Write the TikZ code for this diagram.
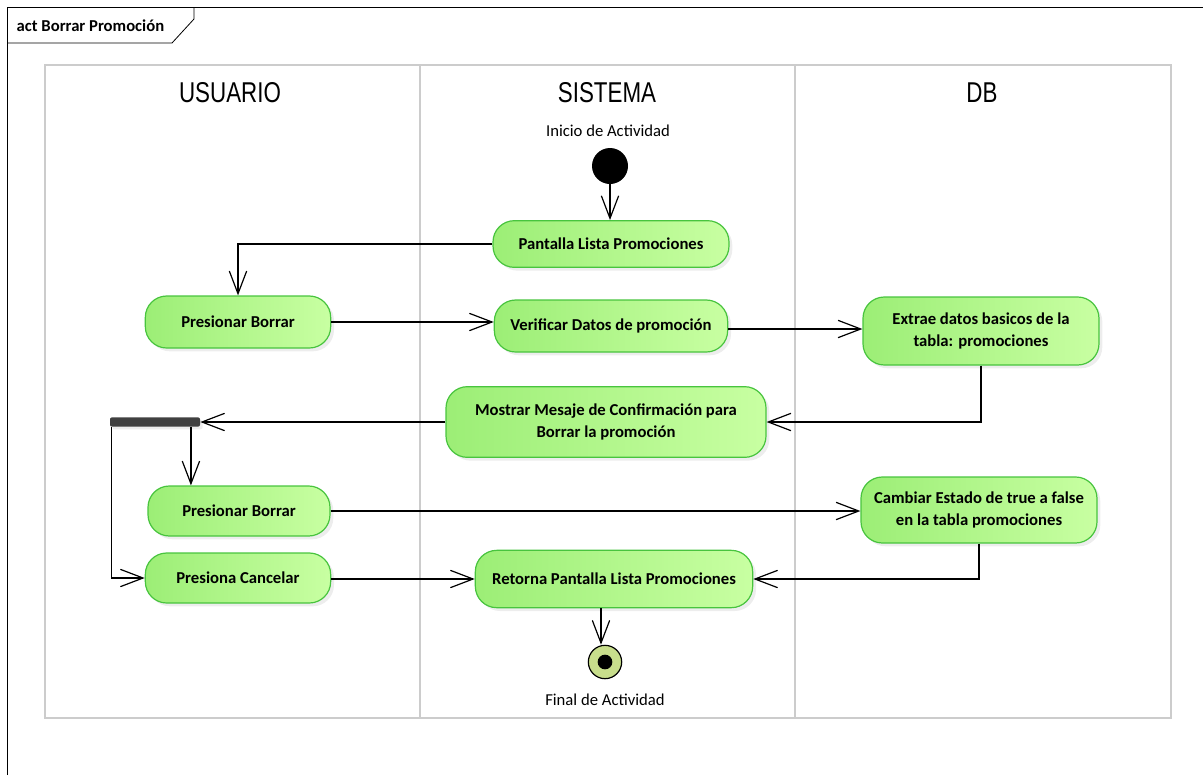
\documentclass[tikz,border=0pt]{standalone}
\usepackage{fontspec}
\setmainfont{Carlito}
\newfontfamily\lanefont[FakeStretch=0.78]{Liberation Sans}
\usetikzlibrary{arrows.meta, positioning, shadows}

\definecolor{actleft}{RGB}{156,238,118}
\definecolor{actright}{RGB}{200,255,162}
\definecolor{actborder}{RGB}{72,196,62}
\definecolor{lanegray}{RGB}{204,204,204}
\definecolor{forkgray}{RGB}{64,64,64}
\definecolor{finalfill}{RGB}{200,222,140}

\begin{document}
\begin{tikzpicture}[
    x=0.75pt, y=-0.75pt,
    every node/.style={font=\fontsize{12.5}{15}\selectfont}, % Carlito everywhere
    action/.style={
        rectangle,
        rounded corners=16pt,
        draw=actborder,
        line width=0.9pt,
        left color=actleft,
        right color=actright,
        align=center,
        inner sep=2pt,
        font=\fontsize{12.5}{16}\selectfont\bfseries,
        drop shadow={shadow xshift=2.5pt, shadow yshift=-2.5pt, fill=black!14}
    },
    lanehead/.style={font=\lanefont\fontsize{21.5}{24}\selectfont},
    lane/.style={draw=lanegray, line width=1pt},
    flow/.style={
        line width=0.9pt,
        -{Straight Barb[length=17pt, width=13pt, line width=0.9pt]}
    }
]

\useasboundingbox (0,0) rectangle (1203,775);

% Diagram frame and name tab
\draw[line width=0.6pt] (7,775) -- (7,7) -- (1203,7);
\draw[line width=0.6pt] (194,7) -- (194,19) -- (172,43) -- (7,43);
\node[anchor=west, font=\fontsize{12.5}{14}\selectfont\bfseries] (title) at (12,26) {act Borrar Promoción};

% Swimlanes
\draw[lane] (45,65) rectangle (1171,718);
\draw[lane] (420,65) -- (420,718);
\draw[lane] (795,65) -- (795,718);
\node[lanehead] (usuario) at (230,93) {USUARIO};
\node[lanehead] (sistema) at (607,93) {SISTEMA};
\node[lanehead] (db) at (982,93) {DB};

% Initial and final nodes
\node[circle, fill=black, minimum size=27pt, inner sep=0pt] (inicio) at (610,166) {};
\node (inicioLbl) at (608,131) {Inicio de Actividad};
\node[circle, draw=black, line width=0.9pt, fill=finalfill, minimum size=25pt, inner sep=0pt] (fin) at (605,662) {};
\node[circle, fill=black, minimum size=11pt, inner sep=0pt] at (fin) {};
\node (finLbl) at (605,700) {Final de Actividad};

% Actions
\node[action, minimum width=177pt, minimum height=35pt] (pantalla) at (611,244) {Pantalla Lista Promociones};
\node[action, minimum width=139pt, minimum height=39pt] (borrarA) at (238,322) {Presionar Borrar};
\node[action, minimum width=175pt, minimum height=39pt] (verificar) at (611,326) {Verificar Datos de promoción};
\node[action, minimum width=177pt, minimum height=51pt] (extrae) at (981,331) {Extrae datos basicos de la\\tabla: promociones};
\node[action, minimum width=240pt, minimum height=53pt] (mostrar) at (606,422) {Mostrar Mesaje de Confirmación para\\Borrar la promoción};
\node[action, minimum width=136.5pt, minimum height=37.5pt] (borrarB) at (239,511) {Presionar Borrar};
\node[action, minimum width=177pt, minimum height=49.5pt] (cambiar) at (979,510) {Cambiar Estado de true a false\\en la tabla promociones};
\node[action, minimum width=139pt, minimum height=37.5pt] (cancelar) at (238,578) {Presiona Cancelar};
\node[action, minimum width=208pt, minimum height=43pt] (retorna) at (614,579) {Retorna Pantalla Lista Promociones};

% Fork bar
\node[rectangle, rounded corners=1.5pt, fill=forkgray, minimum width=67.5pt, minimum height=7pt, inner sep=0pt,
      drop shadow={shadow xshift=2pt, shadow yshift=-2pt, fill=black!14}] (fork) at (155,422) {};

% Control flow
\draw[flow] (inicio) -- (inicio |- pantalla.north);
\draw[flow] (pantalla.west) -| (borrarA.north);
\draw[flow] (borrarA.east) -- (borrarA.east -| verificar.west);
\draw[flow] (verificar.east |- 0,329) -- (extrae.west |- 0,329);
\draw[flow] (extrae.south) |- (mostrar.east);
\draw[flow] (mostrar.west) -- (fork.east);
\draw[flow] ([xshift=-7pt]fork.south east) -- ([xshift=-7pt]fork.south east |- borrarB.north);
\draw[flow] ([xshift=1.5pt]fork.south west) |- (cancelar.west);
\draw[flow] (borrarB.east) -- (borrarB.east -| cambiar.west);
\draw[flow] (cancelar.east |- retorna.west) -- (retorna.west);
\draw[flow] (cambiar.south) |- (retorna.east);
\draw[flow] ([xshift=-3pt]fin |- retorna.south) -- ([xshift=-3pt]fin.north);

\end{tikzpicture}
\end{document}
